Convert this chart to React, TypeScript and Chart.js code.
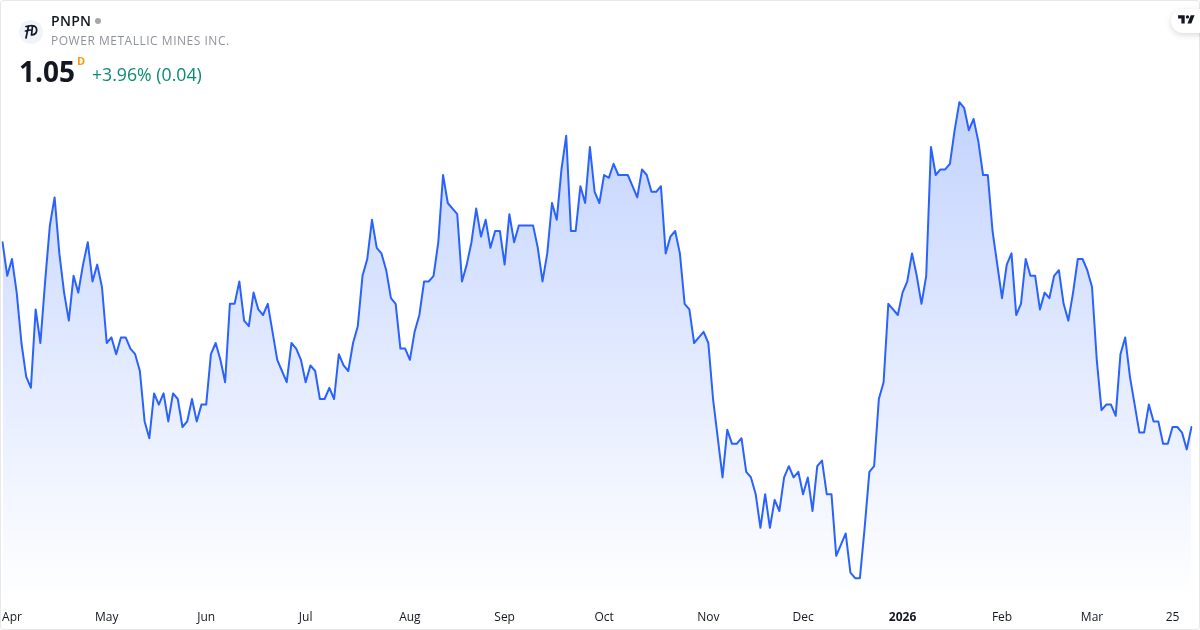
import React, { useEffect, useRef } from "react";
import { Chart, registerables } from "chart.js";

Chart.register(...registerables);

const prices: number[] = [
  1.38, 1.32, 1.35, 1.29, 1.20, 1.14, 1.12, 1.26, 1.20, 1.31, 1.41, 1.46, 1.36, 1.29, 1.24, 1.32, 1.29, 1.34, 1.38, 1.31,
  1.34, 1.30, 1.20, 1.21, 1.18, 1.21, 1.21, 1.19, 1.18, 1.15, 1.06, 1.03, 1.11, 1.09, 1.11, 1.06, 1.11, 1.10, 1.05, 1.06,
  1.10, 1.06, 1.09, 1.09, 1.18, 1.20, 1.17, 1.13, 1.27, 1.27, 1.31, 1.24, 1.23, 1.29, 1.26, 1.25, 1.27, 1.22, 1.17, 1.15,
  1.13, 1.20, 1.19, 1.17, 1.13, 1.16, 1.15, 1.10, 1.10, 1.12, 1.10, 1.18, 1.16, 1.15, 1.20, 1.23, 1.32, 1.35, 1.42, 1.37,
  1.36, 1.33, 1.28, 1.27, 1.19, 1.19, 1.17, 1.22, 1.25, 1.31, 1.31, 1.32, 1.38, 1.50, 1.45, 1.44, 1.43, 1.31, 1.34, 1.38,
  1.44, 1.39, 1.42, 1.37, 1.40, 1.40, 1.34, 1.43, 1.38, 1.41, 1.41, 1.41, 1.41, 1.37, 1.31, 1.36, 1.45, 1.42, 1.51, 1.57,
  1.40, 1.40, 1.48, 1.45, 1.55, 1.47, 1.45, 1.50, 1.495, 1.52, 1.50, 1.50, 1.50, 1.48, 1.46, 1.51, 1.50, 1.47, 1.47, 1.48,
  1.36, 1.39, 1.40, 1.36, 1.27, 1.26, 1.20, 1.21, 1.22, 1.20, 1.10, 1.03, 0.96, 1.045, 1.02, 1.02, 1.03, 0.97, 0.96, 0.93,
  0.87, 0.93, 0.87, 0.92, 0.90, 0.96, 0.98, 0.96, 0.97, 0.93, 0.96, 0.90, 0.98, 0.99, 0.93, 0.93, 0.82, 0.84, 0.86, 0.79,
  0.78, 0.78, 0.87, 0.97, 0.98, 1.10, 1.13, 1.27, 1.26, 1.25, 1.29, 1.31, 1.36, 1.32, 1.27, 1.32, 1.55, 1.50, 1.51, 1.51,
  1.52, 1.58, 1.63, 1.62, 1.58, 1.60, 1.56, 1.50, 1.50, 1.40, 1.34, 1.28, 1.34, 1.36, 1.25, 1.27, 1.35, 1.32, 1.32, 1.26,
  1.29, 1.28, 1.32, 1.33, 1.27, 1.24, 1.29, 1.35, 1.35, 1.33, 1.30, 1.17, 1.08, 1.09, 1.09, 1.07, 1.18, 1.21, 1.14, 1.09,
  1.04, 1.04, 1.09, 1.06, 1.06, 1.02, 1.02, 1.05, 1.05, 1.04, 1.01, 1.05,
];

const tickLabels: string[] = ["Apr", "May", "Jun", "Jul", "Aug", "Sep", "Oct", "Nov", "Dec", "2026", "Feb", "Mar", "25"];
const tickPositions: number[] = [2, 22, 43, 64, 86, 106, 127, 149, 169, 190, 211, 230, 247];

const categories: string[] = prices.map((_, i) => {
  const at = tickPositions.indexOf(i);
  return at >= 0 ? tickLabels[at] : "";
});

const FONT = '"Open Sans", "Noto Sans", sans-serif';
const LINE = "#2962ff";

export default function App() {
  const ref = useRef<HTMLCanvasElement | null>(null);

  useEffect(() => {
    document.body.style.margin = "0";
    const canvas = ref.current;
    if (!canvas) return;
    const chart = new Chart(canvas, {
      type: "line",
      data: {
        labels: categories,
        datasets: [
          {
            data: prices,
            borderColor: LINE,
            borderWidth: 2,
            borderJoinStyle: "round",
            borderCapStyle: "round",
            pointRadius: 0,
            tension: 0,
            fill: "start",
            backgroundColor: (ctx: any) => {
              const g = ctx.chart.ctx.createLinearGradient(0, 102, 0, 600);
              g.addColorStop(0, "rgba(41,98,255,0.28)");
              g.addColorStop(1, "rgba(41,98,255,0)");
              return g;
            },
          },
        ],
      },
      options: {
        responsive: false,
        animation: false,
        layout: { padding: { left: 2.5, right: 8.5, top: 0, bottom: 0 } },
        plugins: { legend: { display: false }, tooltip: { enabled: false } },
        scales: {
          x: {
            type: "category",
            offset: false,
            grid: { display: false, drawTicks: false },
            border: { display: false },
            afterFit: (s: any) => {
              s.height = 30;
              s.paddingLeft = 0;
              s.paddingRight = 0;
            },
            ticks: {
              autoSkip: false,
              maxRotation: 0,
              minRotation: 0,
              padding: 10,
              color: "#131722",
              font: (c: any) => ({
                family: FONT,
                size: 12,
                weight: c.tick && c.tick.label === "2026" ? "700" : "400",
              }),
            },
          },
          y: {
            display: false,
            min: 0.7411,
            max: 1.8125,
          },
        },
      },
    } as any);
    return () => chart.destroy();
  }, []);

  return (
    <div style={{ position: "relative", width: 1200, height: 630, overflow: "hidden", background: "#fff", fontFamily: FONT }}>
      <canvas ref={ref} width={1200} height={630} style={{ position: "absolute", left: 0, top: 0, display: "block" }} />
      <div
        style={{
          position: "absolute",
          inset: 0,
          boxSizing: "border-box",
          border: "1px solid #e8e8e8",
          borderRadius: 3,
          pointerEvents: "none",
        }}
      />
      <div
        style={{
          position: "absolute",
          left: 19,
          top: 20,
          width: 24,
          height: 24,
          borderRadius: "50%",
          background: "#f0f3fa",
        }}
      />
      <svg viewBox="0 0 24 24" width="24" height="24" style={{ position: "absolute", left: 19, top: 20 }}>
        <path
          d="M7 6.5 L13 5.5 M9.5 6 L7 18 M6.5 11 L11.5 10 M13 6 C19 5 19.5 14 13 15 M13.5 6 L12.5 15"
          fill="none"
          stroke="#131722"
          strokeWidth="1.7"
          strokeLinecap="round"
        />
      </svg>
      <div style={{ position: "absolute", left: 51, top: 11, fontSize: 14, fontWeight: 600, lineHeight: "20px", color: "#131722", letterSpacing: 0.3 }}>
        PNPN
      </div>
      <div style={{ position: "absolute", left: 95, top: 18, width: 6, height: 6, borderRadius: "50%", background: "#a3a6af" }} />
      <div style={{ position: "absolute", left: 51, top: 32, fontSize: 12, lineHeight: "18px", color: "#8f929b", letterSpacing: 0.52, whiteSpace: "nowrap" }}>
        POWER METALLIC MINES INC.
      </div>
      <div style={{ position: "absolute", left: 19, top: 51, fontSize: 28, fontWeight: 700, lineHeight: "40px", color: "#131722" }}>1.05</div>
      <div style={{ position: "absolute", left: 77, top: 53, fontSize: 11, fontWeight: 700, lineHeight: "16px", color: "#ff9800" }}>D</div>
      <div style={{ position: "absolute", left: 92, top: 62, fontSize: 17.7, lineHeight: "24px", color: "#0b8a73", whiteSpace: "nowrap" }}>+3.96% (0.04)</div>
      <div
        style={{
          position: "absolute",
          left: 1171,
          top: 9,
          width: 44,
          height: 24,
          borderRadius: 12,
          background: "#fff",
          boxShadow: "0 2px 6px rgba(0,0,0,0.15)",
        }}
      />
      <svg viewBox="0 0 36 28" width="19.8" height="15.4" style={{ position: "absolute", left: 1176.6, top: 12.4 }}>
        <path d="M14 6H2v6h6v9h6V6Zm12 15h-7l6-15h7l-6 15Zm-7-9a3 3 0 1 0 0-6 3 3 0 0 0 0 6Z" fill="#131722" />
      </svg>
    </div>
  );
}
